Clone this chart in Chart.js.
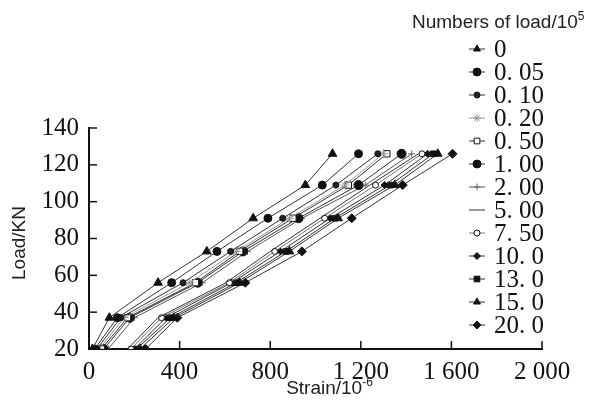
<!DOCTYPE html>
<html>
<head>
<meta charset="utf-8">
<script src="https://cdn.jsdelivr.net/npm/chart.js@4.4.0/dist/chart.umd.min.js"></script>
<style>
  body { margin: 0; background: #fff; }
  #wrap { width: 602px; height: 402px; }
</style>
</head>
<body>
<div id="wrap"><canvas id="grafico" width="602" height="402"></canvas></div>
<script>
// cargas (KN) lidas no eixo y
const loads = [20, 37, 56, 73, 91, 109, 126];

// numero de ciclos (x10^5), texto da legenda
const cycleLabels = ["0", "0. 05", "0. 10", "0. 20", "0. 50", "1. 00", "2. 00",
  "5. 00", "7. 50", "10. 0", "13. 0", "15. 0", "20. 0"];

// deformacao (x10^-6) para cada carga
const strain0 = [15, 90, 305, 520, 725, 955, 1075];
const strain005 = [25, 125, 365, 565, 790, 1030, 1190];
const strain010 = [35, 140, 415, 625, 855, 1090, 1275];
const strain020 = [45, 155, 445, 650, 885, 1130, 1300];
const strain050 = [55, 170, 470, 665, 900, 1145, 1315];
const strain100 = [65, 180, 480, 680, 925, 1190, 1380];
const strain200 = [85, 200, 500, 700, 940, 1220, 1425];
const strain500 = [170, 305, 605, 800, 1020, 1240, 1455];
const strain750 = [185, 320, 620, 820, 1040, 1265, 1470];
const strain1000 = [200, 340, 630, 845, 1065, 1305, 1495];
const strain1300 = [210, 360, 650, 870, 1085, 1330, 1520];
const strain1500 = [225, 375, 665, 885, 1100, 1350, 1540];
const strain2000 = [250, 390, 690, 940, 1160, 1385, 1605];

const series = [strain0, strain005, strain010, strain020, strain050, strain100, strain200,
  strain500, strain750, strain1000, strain1300, strain1500, strain2000];

const xTicks = [0, 400, 800, 1200, 1600, 2000];

// estilo de cada serie
const styles = [
  { point: "triangle", r: 5, fill: "#111", line: "#333" },
  { point: "circle", r: 4, fill: "#111", line: "#333" },
  { point: "circle", r: 3, fill: "#222", line: "#333" },
  { point: "star", r: 4.5, fill: "#999", line: "#999" },
  { point: "rect", r: 4.5, fill: "#fff", line: "#333" },
  { point: "circle", r: 4.5, fill: "#111", line: "#333" },
  { point: "cross", r: 3.5, fill: "#666", line: "#555" },
  { point: "circle", r: 0, fill: "#333", line: "#333" },
  { point: "circle", r: 3, fill: "#fff", line: "#777" },
  { point: "rectRot", r: 3.5, fill: "#111", line: "#333" },
  { point: "rect", r: 4, fill: "#111", line: "#333" },
  { point: "triangle", r: 5, fill: "#111", line: "#333" },
  { point: "rectRot", r: 4.5, fill: "#111", line: "#333" },
];

const datasets = series.map((s, i) => ({
  label: cycleLabels[i],
  data: loads.map((l, j) => ({ x: s[j], y: l })),
  showLine: true,
  borderColor: styles[i].line,
  borderWidth: 1,
  pointStyle: styles[i].point,
  pointRadius: styles[i].r,
  pointBackgroundColor: styles[i].fill,
  pointBorderColor: styles[i].point === "star" || styles[i].point === "cross" ? styles[i].fill : "#111",
  pointBorderWidth: 1,
}));

const serif = "'Times New Roman', 'Liberation Serif', Times, serif";
const sans = "'Liberation Sans', Arial, sans-serif";

// ticks para dentro, titulos dos eixos e legenda
const extras = {
  id: "extras",
  afterDraw(chart) {
    const ctx = chart.ctx;
    const area = chart.chartArea;
    const sx = chart.scales.x;
    const sy = chart.scales.y;
    ctx.save();
    ctx.strokeStyle = "#111";
    ctx.lineWidth = 1.5;
    sx.ticks.forEach((t) => {
      const px = sx.getPixelForValue(t.value);
      ctx.beginPath();
      ctx.moveTo(px, area.bottom);
      ctx.lineTo(px, area.bottom - 8);
      ctx.stroke();
    });
    sy.ticks.forEach((t) => {
      const py = sy.getPixelForValue(t.value);
      ctx.beginPath();
      ctx.moveTo(area.left, py);
      ctx.lineTo(area.left + 8, py);
      ctx.stroke();
    });

    ctx.fillStyle = "#222";
    // titulo eixo x
    ctx.textBaseline = "alphabetic";
    const xt = "Strain/10";
    const cx = (area.left + area.right) / 2 + 14;
    ctx.font = "19px " + sans;
    const w1 = ctx.measureText(xt).width;
    ctx.font = "12px " + sans;
    const w2 = ctx.measureText("-6").width;
    const x0 = cx - (w1 + w2) / 2;
    ctx.font = "19px " + sans;
    ctx.fillText(xt, x0, 394);
    ctx.font = "12px " + sans;
    ctx.fillText("-6", x0 + w1, 386);

    // titulo eixo y
    ctx.save();
    ctx.translate(25, 243);
    ctx.rotate(-Math.PI / 2);
    ctx.font = "19px " + sans;
    ctx.textAlign = "center";
    ctx.fillText("Load/KN", 0, 0);
    ctx.restore();

    // legenda
    ctx.font = "19px " + sans;
    ctx.textAlign = "left";
    const lt = "Numbers of load/10";
    ctx.fillText(lt, 412, 28);
    const lw = ctx.measureText(lt).width;
    ctx.font = "12px " + sans;
    ctx.fillText("5", 412 + lw, 20);

    ctx.font = "25px " + serif;
    ctx.textBaseline = "middle";
    chart.data.datasets.forEach((ds, i) => {
      const y = 49 + i * 23;
      ctx.strokeStyle = ds.borderColor;
      ctx.lineWidth = 1;
      ctx.beginPath();
      ctx.moveTo(469, y);
      ctx.lineTo(485, y);
      ctx.stroke();
      if (ds.pointRadius > 0) {
        ctx.fillStyle = ds.pointBackgroundColor;
        ctx.strokeStyle = ds.pointBorderColor;
        Chart.helpers.drawPoint(ctx, {
          pointStyle: ds.pointStyle,
          radius: Math.min(ds.pointRadius, 4),
          rotation: 0,
          borderWidth: 1,
        }, 477, y);
      }
      ctx.fillStyle = "#111";
      ctx.fillText(ds.label, 494, y + 1);
    });
    ctx.restore();
  },
};

new Chart(document.querySelector("#grafico"), {
  type: "scatter",
  data: { datasets: datasets },
  options: {
    responsive: false,
    animation: false,
    layout: { padding: { left: 0, top: 128, right: 60, bottom: 0 } },
    plugins: { legend: { display: false }, tooltip: { enabled: false } },
    scales: {
      x: {
        min: 0,
        max: 2000,
        afterFit: (s) => { s.height = 53; },
        afterBuildTicks: (s) => { s.ticks = xTicks.map((v) => ({ value: v })); },
        grid: { display: false, drawTicks: false },
        border: { color: "#111", width: 2 },
        ticks: {
          padding: 8,
          color: "#111",
          font: { family: serif, size: 25 },
          maxRotation: 0,
          callback: (v) => String(v).replace(/\B(?=(\d{3})+(?!\d))/g, " "),
        },
      },
      y: {
        min: 20,
        max: 140,
        afterFit: (s) => { s.width = 89; },
        grid: { display: false, drawTicks: false },
        border: { color: "#111", width: 2 },
        ticks: {
          stepSize: 20,
          padding: 10,
          color: "#111",
          font: { family: serif, size: 25 },
        },
      },
    },
  },
  plugins: [extras],
});
</script>
</body>
</html>
